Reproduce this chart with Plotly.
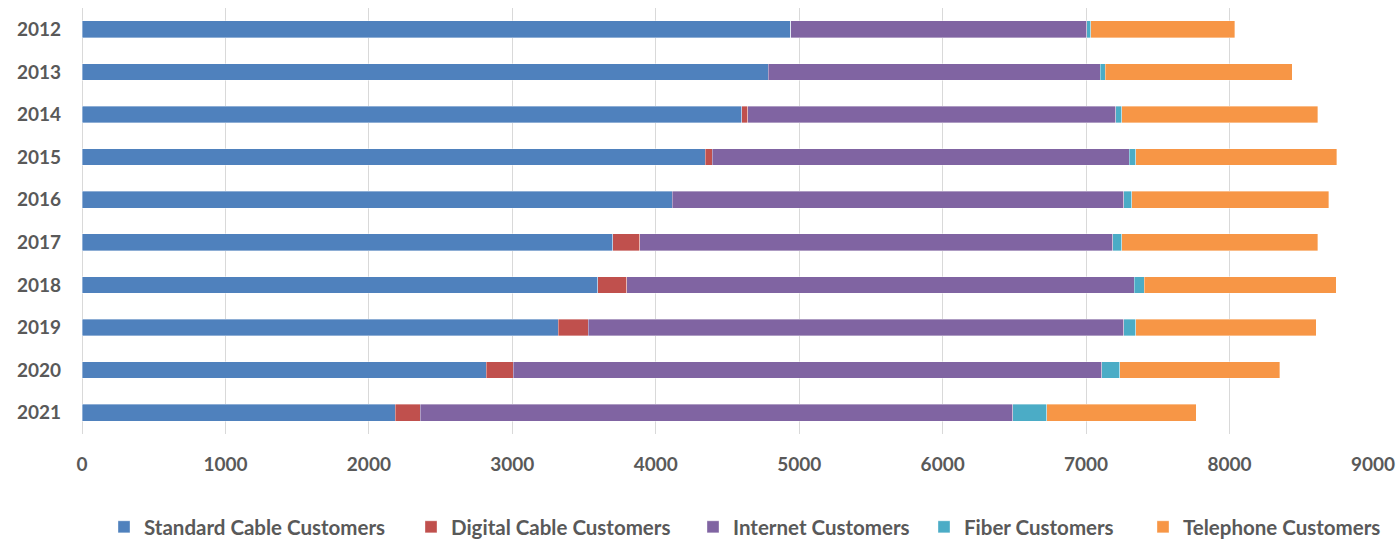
import plotly.graph_objects as go

# Customers by year, stacked by service type
years = ["2012", "2013", "2014", "2015", "2016", "2017", "2018", "2019", "2020", "2021"]
standard_cable = [4940, 4783, 4601, 4345, 4114, 3700, 3596, 3319, 2817, 2183]
digital_cable = [0, 0, 40, 48, 0, 189, 202, 209, 189, 175]
internet = [2063, 2314, 2566, 2909, 3149, 3296, 3539, 3735, 4102, 4129]
fiber = [30, 35, 40, 44, 55, 65, 67, 83, 125, 237]
telephone = [1004, 1305, 1368, 1402, 1372, 1365, 1339, 1258, 1118, 1044]

series = [
    ("Standard Cable Customers", standard_cable, "#4F81BD"),
    ("Digital Cable Customers", digital_cable, "#C0504D"),
    ("Internet Customers", internet, "#8064A2"),
    ("Fiber Customers", fiber, "#4BACC6"),
    ("Telephone Customers", telephone, "#F79646"),
]

# left edge (px) of each legend entry along the bottom row
legend_left_px = [117, 424, 706, 937, 1156]

W, H = 1399, 539
text_color = "#595959"
font_family = "Lato, 'Open Sans', sans-serif"
legend_font = dict(family=font_family, size=20.5, color=text_color, weight="bold")

fig = go.Figure()
layout_legends = {}
for i, (name, values, color) in enumerate(series):
    key = "legend" if i == 0 else f"legend{i + 1}"
    fig.add_trace(go.Bar(
        name=name,
        y=years,
        x=values,
        orientation="h",
        legend=key,
        marker=dict(color=color, line=dict(color="rgba(255,255,255,0.45)", width=0.8)),
    ))
    layout_legends[key] = dict(
        orientation="h",
        xref="container",
        yref="container",
        x=(legend_left_px[i] - 13) / W,
        xanchor="left",
        y=(H - 527) / H,
        yanchor="middle",
        font=legend_font,
        itemwidth=30,
        bgcolor="rgba(0,0,0,0)",
    )

fig.update_layout(
    barmode="stack",
    bargap=0.61,
    width=W,
    height=H,
    margin=dict(l=82, r=26, t=8, b=105, autoexpand=False),
    plot_bgcolor="white",
    paper_bgcolor="white",
    font=dict(family=font_family, color=text_color, size=18),
    xaxis=dict(
        range=[0, 9000],
        dtick=1000,
        showgrid=True,
        gridcolor="#D9D9D9",
        gridwidth=1,
        zeroline=True,
        zerolinecolor="#D9D9D9",
        zerolinewidth=1,
        showline=False,
        ticks="",
        ticklabelstandoff=17,
        tickfont=dict(family=font_family, size=19, color=text_color, weight="bold"),
    ),
    yaxis=dict(
        type="category",
        autorange="reversed",
        showgrid=False,
        showline=False,
        ticks="",
        ticklabelstandoff=20,
        tickfont=dict(family=font_family, size=19, color=text_color, weight="bold"),
    ),
    showlegend=True,
    **layout_legends,
)

fig.write_html("out.html")
